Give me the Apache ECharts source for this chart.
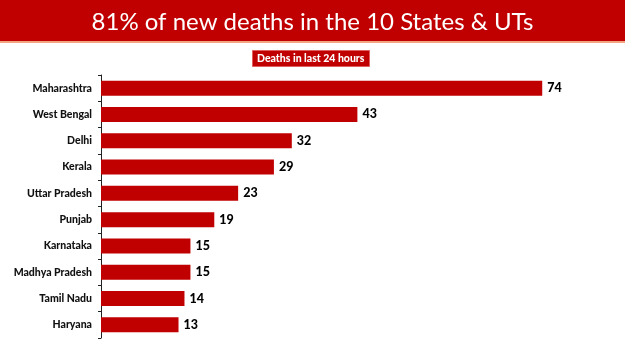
<!DOCTYPE html>
<html><head><meta charset="utf-8">
<script src="https://cdn.jsdelivr.net/npm/echarts@6/dist/echarts.min.js"></script>
<style>html,body{margin:0;padding:0;background:#fff}#c{width:625px;height:351px}</style>
</head><body><div id="c"></div>
<script>
const states = ["Maharashtra","West Bengal","Delhi","Kerala","Uttar Pradesh","Punjab","Karnataka","Madhya Pradesh","Tamil Nadu","Haryana"];
const deaths = [74,43,32,29,23,19,15,15,14,13];
const chartTitle = "81% of new deaths in the 10 States & UTs";
const subTitle = "Deaths in last 24 hours";

const chart = echarts.init(document.getElementById('c'), null, {renderer:'canvas'});
chart.setOption({
  animation:false,
  backgroundColor:'#fff',
  graphic:[
    {type:'rect', shape:{x:0,y:0,width:625,height:41}, style:{fill:'#C00000'}},
    {type:'rect', shape:{x:0,y:41,width:625,height:2}, style:{fill:'#F4A582'}}
  ],
  title:[
    {text:chartTitle, left:'center', top:5, textStyle:{color:'#fff', fontFamily:'Lato', fontWeight:'normal', fontSize:24}},
    {text:subTitle, left:252, top:50, padding:[3,5,3,5], backgroundColor:'#C00000', borderColor:'#E06060', borderWidth:1,
     textStyle:{color:'#fff', fontFamily:'Lato', fontWeight:900, fontSize:10.5}}
  ],
  grid:{left:101, top:75, width:477, height:263, containLabel:false},
  xAxis:{type:'value', min:0, max:80, show:false},
  yAxis:{type:'category', data:states, inverse:true,
    axisLine:{show:true, lineStyle:{color:'#222', width:1}},
    axisTick:{show:true, length:3, lineStyle:{color:'#222'}},
    axisLabel:{color:'#111', fontFamily:'Lato', fontWeight:900, fontSize:10.5, margin:9},
    splitLine:{show:false}},
  series:[{type:'bar', data:deaths, barWidth:15, itemStyle:{color:'#C00000'},
    label:{show:true, position:'right', distance:5, color:'#000', fontFamily:'Lato', fontWeight:900, fontSize:12.5}}]
});
</script></body></html>
